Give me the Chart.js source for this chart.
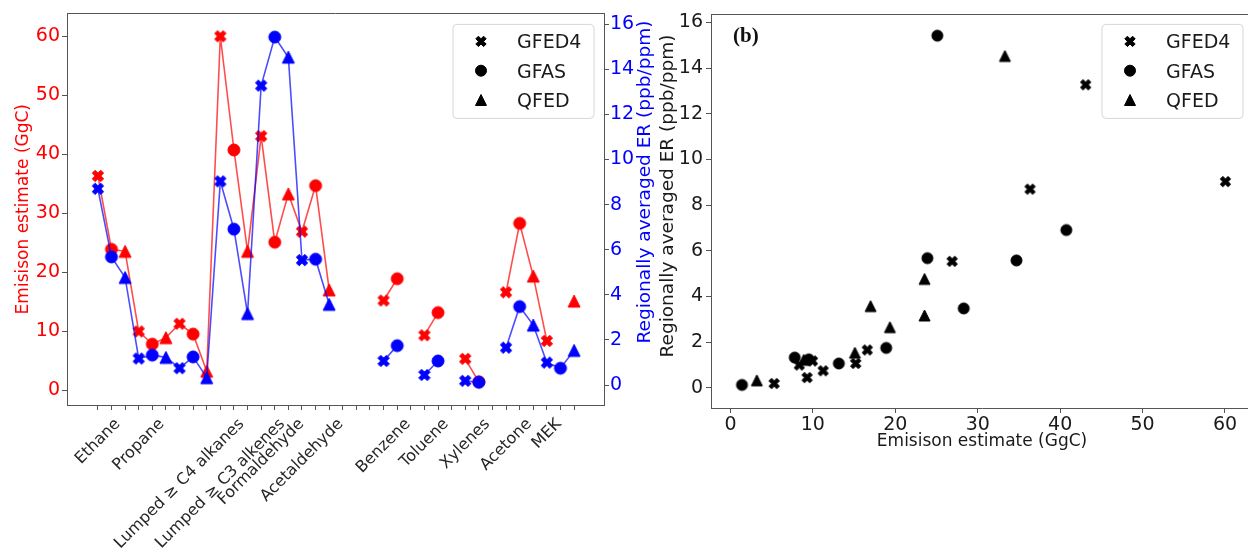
<!DOCTYPE html>
<html><head><meta charset="utf-8">
<script src="https://cdn.jsdelivr.net/npm/chart.js@4.4.1/dist/chart.umd.min.js"></script>
<style>
html,body{margin:0;padding:0;background:#fff;overflow:hidden;width:1248px;height:554px;position:relative;}
#ca{position:absolute;left:0;top:0;}
#cb{position:absolute;left:640px;top:0;}
</style></head><body>
<canvas id="ca" width="660" height="554"></canvas>
<canvas id="cb" width="620" height="554"></canvas>
<script>
// ---------------- data ----------------
const species = ['Ethane', 'Propane', 'Lumped \u2265 C4 alkanes', 'Lumped \u2265 C3 alkenes', 'Formaldehyde', 'Acetaldehyde', '', 'Benzene', 'Toluene', 'Xylenes', 'Acetone', 'MEK'];
const inventories = ['GFED4', 'GFAS', 'QFED'];
// Emission estimate (GgC)
const emisGFED4 = [36.35, 9.95, 11.25, 60.05, 43.1, 26.9, null, 15.2, 9.3, 5.3, 16.6, 8.35];
const emisGFAS  = [23.9, 7.8, 9.5, 40.75, 25.1, 34.7, null, 18.9, 13.15, 1.4, 28.3, null];
const emisQFED  = [23.55, 8.9, 3.2, 23.55, 33.3, 17.0, null, null, null, null, 19.35, 15.1];
// Regionally averaged ER (ppb/ppm)
const erGFED4 = [8.70, 1.18, 0.75, 9.03, 13.27, 5.54, null, 1.07, 0.45, 0.19, 1.66, 1.0];
const erGFAS  = [5.68, 1.33, 1.25, 6.91, 15.42, 5.58, null, 1.75, 1.07, 0.13, 3.48, 0.75];
const erQFED  = [4.77, 1.23, 0.33, 3.17, 14.53, 3.58, null, null, null, null, 2.66, 1.54];
// tick labels
const emisTicks = [0, 10, 20, 30, 40, 50, 60];
const erTicks = [0, 2, 4, 6, 8, 10, 12, 14, 16];
const emisTicksB = [0, 10, 20, 30, 40, 50, 60];
const axisTitleEmis = 'Emisison estimate (GgC)';
const axisTitleER = 'Regionally averaged ER (ppb/ppm)';
const panelLabel = '(b)';

// ---------------- helpers ----------------
const FF = "'DejaVu Sans', 'Liberation Sans', sans-serif";
const emisBy = [emisGFED4, emisGFAS, emisQFED];
const erBy = [erGFED4, erGFAS, erQFED];
const kinds = ['x', 'circle', 'triangle'];

function drawShape(g, kind, cx, cy, size, color) {
  g.save();
  g.fillStyle = color; g.strokeStyle = color; g.lineWidth = 1; g.lineJoin = 'miter';
  g.beginPath();
  if (kind === 'circle') {
    g.arc(cx, cy, size / 2, 0, Math.PI * 2);
  } else if (kind === 'triangle') {
    g.moveTo(cx, cy - size / 2); g.lineTo(cx + size / 2, cy + size / 2); g.lineTo(cx - size / 2, cy + size / 2); g.closePath();
  } else {
    const pts = [[-1,-3],[1,-3],[1,-1],[3,-1],[3,1],[1,1],[1,3],[-1,3],[-1,1],[-3,1],[-3,-1],[-1,-1]];
    const k = Math.SQRT1_2 * size / 6;
    pts.forEach(([px, py], i) => {
      const x = cx + (px - py) * k, y = cy + (px + py) * k;
      if (i) g.lineTo(x, y); else g.moveTo(x, y);
    });
    g.closePath();
  }
  g.fill(); g.stroke();
  g.restore();
}
function makeMarker(kind, color, size) {
  const s = Math.ceil(size) + 6;
  const c = document.createElement('canvas'); c.width = s; c.height = s;
  drawShape(c.getContext('2d'), kind, s / 2, s / 2, size, color);
  return c;
}
const mk = {
  red: kinds.map(k => makeMarker(k, '#ff0000', 12)),
  blue: kinds.map(k => makeMarker(k, '#0000ff', 12)),
  black: kinds.map(k => makeMarker(k, '#000000', 11))
};

function drawLegend(ctx, right, top) {
  const w = 141, h = 94, x = right - w, y = top, r = 4;
  ctx.save();
  ctx.beginPath();
  ctx.moveTo(x + r, y); ctx.lineTo(x + w - r, y); ctx.arcTo(x + w, y, x + w, y + r, r);
  ctx.lineTo(x + w, y + h - r); ctx.arcTo(x + w, y + h, x + w - r, y + h, r);
  ctx.lineTo(x + r, y + h); ctx.arcTo(x, y + h, x, y + h - r, r);
  ctx.lineTo(x, y + r); ctx.arcTo(x, y, x + r, y, r); ctx.closePath();
  ctx.fillStyle = 'rgba(255,255,255,0.85)'; ctx.fill();
  ctx.strokeStyle = '#d6d6d6'; ctx.lineWidth = 1; ctx.stroke();
  ctx.font = '19px ' + FF; ctx.fillStyle = '#1a1a1a'; ctx.textAlign = 'left'; ctx.textBaseline = 'alphabetic';
  inventories.forEach((name, j) => {
    const cy = y + 17 + j * 29.3;
    drawShape(ctx, kinds[j], x + 28, cy, 11, '#000');
    ctx.fillText(name, x + 64, cy + 7);
  });
  ctx.restore();
}
function rotText(ctx, text, x, y, rot, font, color) {
  ctx.save(); ctx.translate(x, y); ctx.rotate(rot);
  ctx.font = font; ctx.fillStyle = color; ctx.textAlign = 'center'; ctx.textBaseline = 'middle';
  ctx.fillText(text, 0, 0); ctx.restore();
}

// ---------------- panel (a) ----------------
const emisPts = [], erPts = [];
species.forEach((s, i) => inventories.forEach((inv, j) => {
  emisPts.push({x: i * 3 + j, y: emisBy[j][i]});
  erPts.push({x: i * 3 + j, y: erBy[j][i]});
}));
const xTickVals = emisPts.map(p => p.x);
const SP = '#555555';

const decorA = {
  id: 'decorA',
  afterDatasetsDraw(chart) {
    const {ctx, chartArea: a, scales} = chart;
    ctx.save();
    ctx.strokeStyle = SP; ctx.lineWidth = 1;
    ctx.beginPath(); ctx.moveTo(a.left, Math.round(a.top) + 0.5); ctx.lineTo(a.right, Math.round(a.top) + 0.5); ctx.stroke();
    // category labels (centered, rotated 45deg)
    ctx.font = '16px ' + FF;
    species.forEach((name, i) => {
      if (!name) return;
      const x = scales.x.getPixelForValue(i * 3);
      const w = ctx.measureText(name).width, h = 16 * 1.17;
      const half = (w + h) / (2 * Math.SQRT2);
      rotText(ctx, name, x, a.bottom + 10 + half, -Math.PI / 4, '16px ' + FF, '#262626');
    });
    rotText(ctx, axisTitleEmis, 24, (a.top + a.bottom) / 2, -Math.PI / 2, '17px ' + FF, '#ff0000');
    rotText(ctx, axisTitleER, 645, 182, -Math.PI / 2, '18.5px ' + FF, '#0000ff');
    drawLegend(ctx, a.right - 10, a.top + 11);
    ctx.restore();
  }
};

new Chart(document.getElementById('ca'), {
  type: 'line',
  data: {
    datasets: [
      {label: 'ER', data: erPts, yAxisID: 'y1', borderColor: 'rgba(0,0,255,0.7)', borderWidth: 1.6,
       pointStyle: c => mk.blue[c.dataIndex % 3], pointRadius: 6, tension: 0, spanGaps: false},
      {label: 'Emission', data: emisPts, yAxisID: 'y', borderColor: 'rgba(255,0,0,0.7)', borderWidth: 1.6,
       pointStyle: c => mk.red[c.dataIndex % 3], pointRadius: 6, tension: 0, spanGaps: false}
    ]
  },
  options: {
    responsive: false, animation: false, devicePixelRatio: 1,
    layout: {padding: {top: 11, left: 0, right: 0, bottom: 0}},
    plugins: {legend: {display: false}, tooltip: {enabled: false}},
    scales: {
      x: {type: 'linear', min: -2.27, max: 37.2,
        afterBuildTicks: s => { s.ticks = xTickVals.map(v => ({value: v})); },
        ticks: {autoSkip: false, maxRotation: 0, callback: () => ''},
        grid: {drawOnChartArea: false, drawTicks: true, tickLength: 5, color: SP},
        border: {color: SP},
        afterFit: s => { s.height = 149; }},
      y: {position: 'left', min: -2.53, max: 63.93,
        afterBuildTicks: s => { s.ticks = emisTicks.map(v => ({value: v})); },
        ticks: {color: '#ff0000', font: {family: FF, size: 19}, padding: 2},
        grid: {drawOnChartArea: false, tickLength: 5, color: SP},
        border: {color: SP},
        afterFit: s => { s.width = 67; }},
      y1: {position: 'right', min: -0.88, max: 16.47,
        afterBuildTicks: s => { s.ticks = erTicks.map(v => ({value: v})); },
        ticks: {color: '#0000ff', font: {family: FF, size: 19}, padding: 1},
        grid: {drawOnChartArea: false, tickLength: 5, color: SP},
        border: {color: SP},
        afterFit: s => { s.width = 56; }}
    }
  },
  plugins: [decorA]
});

// ---------------- panel (b) ----------------
const decorB = {
  id: 'decorB',
  afterDatasetsDraw(chart) {
    const {ctx, chartArea: a} = chart;
    ctx.save();
    ctx.strokeStyle = SP; ctx.lineWidth = 1;
    ctx.beginPath();
    ctx.moveTo(a.left, Math.round(a.top) + 0.5); ctx.lineTo(a.right, Math.round(a.top) + 0.5);
    ctx.moveTo(Math.round(a.right) + 0.5, a.top); ctx.lineTo(Math.round(a.right) + 0.5, a.bottom);
    ctx.stroke();
    rotText(ctx, axisTitleEmis, (a.left + a.right) / 2, 441.5, 0, '17px ' + FF, '#1a1a1a');
    rotText(ctx, axisTitleER, 28, 196, -Math.PI / 2, '18.5px ' + FF, '#1a1a1a');
    ctx.save();
    ctx.font = 'bold 21px "Liberation Serif", "Times New Roman", serif';
    ctx.fillStyle = '#111'; ctx.textAlign = 'left'; ctx.textBaseline = 'middle';
    ctx.fillText(panelLabel, a.left + 22, 37);
    ctx.restore();
    drawLegend(ctx, a.right - 10, a.top + 10);
    ctx.restore();
  }
};

new Chart(document.getElementById('cb'), {
  type: 'scatter',
  data: {
    datasets: inventories.map((inv, j) => ({
      label: inv,
      data: species.map((s, i) => ({x: emisBy[j][i], y: erBy[j][i]})).filter(p => p.x !== null && p.y !== null),
      pointStyle: mk.black[j], pointRadius: 6, showLine: false
    }))
  },
  options: {
    responsive: false, animation: false, devicePixelRatio: 1,
    layout: {padding: {top: 12, left: 0, right: 6, bottom: 0}},
    plugins: {legend: {display: false}, tooltip: {enabled: false}},
    scales: {
      x: {type: 'linear', min: -2.36, max: 63.4,
        afterBuildTicks: s => { s.ticks = emisTicksB.map(v => ({value: v})); },
        ticks: {color: '#1a1a1a', font: {family: FF, size: 19}, padding: 1, maxRotation: 0},
        grid: {drawOnChartArea: false, tickLength: 5, color: SP},
        border: {color: SP},
        afterFit: s => { s.height = 146; }},
      y: {type: 'linear', min: -0.88, max: 16.35,
        afterBuildTicks: s => { s.ticks = erTicks.map(v => ({value: v})); },
        ticks: {color: '#1a1a1a', font: {family: FF, size: 19}, padding: 3},
        grid: {drawOnChartArea: false, tickLength: 5, color: SP},
        border: {color: SP},
        afterFit: s => { s.width = 71; }}
    }
  },
  plugins: [decorB]
});
</script>
</body></html>
